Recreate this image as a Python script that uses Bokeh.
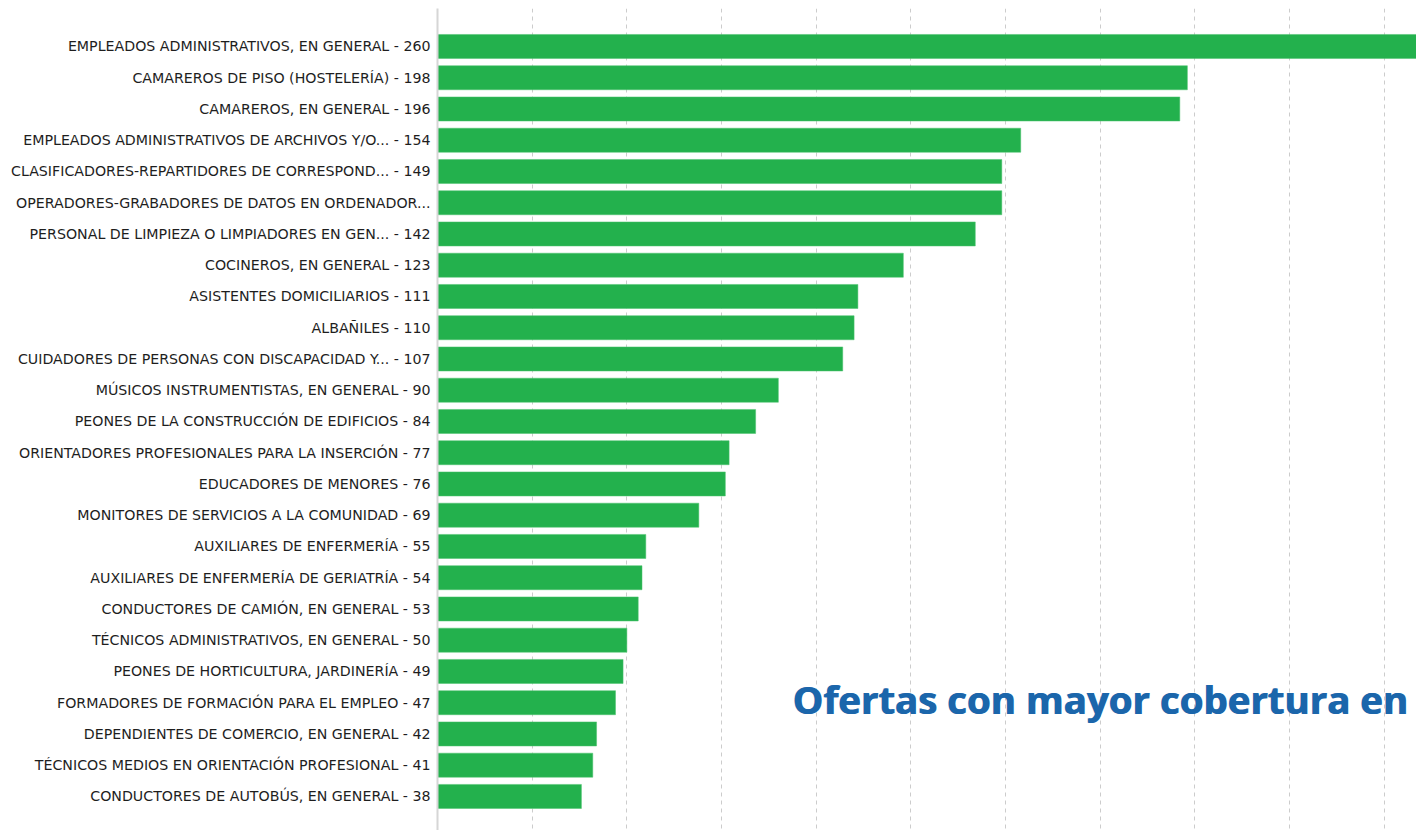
from bokeh.plotting import figure
from bokeh.models import Range1d, FixedTicker, Label
from bokeh.embed import file_html
from bokeh.resources import INLINE

labels = [
    "EMPLEADOS ADMINISTRATIVOS, EN GENERAL - 260",
    "CAMAREROS DE PISO (HOSTELERÍA) - 198",
    "CAMAREROS, EN GENERAL - 196",
    "EMPLEADOS ADMINISTRATIVOS DE ARCHIVOS Y/O... - 154",
    "CLASIFICADORES-REPARTIDORES DE CORRESPOND... - 149",
    "OPERADORES-GRABADORES DE DATOS EN ORDENADOR...",
    "PERSONAL DE LIMPIEZA O LIMPIADORES EN GEN... - 142",
    "COCINEROS, EN GENERAL - 123",
    "ASISTENTES DOMICILIARIOS - 111",
    "ALBAÑILES - 110",
    "CUIDADORES DE PERSONAS CON DISCAPACIDAD Y... - 107",
    "MÚSICOS INSTRUMENTISTAS, EN GENERAL - 90",
    "PEONES DE LA CONSTRUCCIÓN DE EDIFICIOS - 84",
    "ORIENTADORES PROFESIONALES PARA LA INSERCIÓN - 77",
    "EDUCADORES DE MENORES - 76",
    "MONITORES DE SERVICIOS A LA COMUNIDAD - 69",
    "AUXILIARES DE ENFERMERÍA - 55",
    "AUXILIARES DE ENFERMERÍA DE GERIATRÍA - 54",
    "CONDUCTORES DE CAMIÓN, EN GENERAL - 53",
    "TÉCNICOS ADMINISTRATIVOS, EN GENERAL - 50",
    "PEONES DE HORTICULTURA, JARDINERÍA - 49",
    "FORMADORES DE FORMACIÓN PARA EL EMPLEO - 47",
    "DEPENDIENTES DE COMERCIO, EN GENERAL - 42",
    "TÉCNICOS MEDIOS EN ORIENTACIÓN PROFESIONAL - 41",
    "CONDUCTORES DE AUTOBÚS, EN GENERAL - 38",
]
values = [260, 198, 196, 154, 149, 149, 142, 123, 111, 110, 107, 90, 84, 77, 76,
          69, 55, 54, 53, 50, 49, 47, 42, 41, 38]
grid_ticks = [25, 50, 75, 100, 125, 150, 175, 200, 225, 250, 275]
title_text = "Ofertas con mayor cobertura en"

idx = list(range(len(labels)))

p = figure(width=1416, height=830, output_backend="svg", toolbar_location=None,
           x_range=Range1d(0, 258.5), y_range=Range1d(25.09, -1.216),
           min_border_left=437, min_border_right=0, min_border_top=8, min_border_bottom=0)
p.outline_line_color = None
p.background_fill_color = "white"
p.border_fill_color = "white"

p.hbar(y=idx, right=values, left=0, height=0.77, fill_color="#23b14d",
       line_color="#4cc26e", line_width=0.5)

p.xaxis.visible = False
p.xgrid.ticker = FixedTicker(ticks=grid_ticks)
p.xgrid.grid_line_color = "#cccccc"
p.xgrid.grid_line_dash = "4 4"
p.xgrid.grid_line_width = 1
p.ygrid.grid_line_color = None

ya = p.yaxis[0]
ya.ticker = FixedTicker(ticks=idx)
ya.major_label_overrides = {i: l for i, l in zip(idx, labels)}
ya.major_tick_line_color = None
ya.minor_tick_line_color = None
ya.axis_line_color = "#d6d6d6"
ya.axis_line_width = 2
ya.major_label_standoff = 1
ya.major_label_text_font = "DejaVu Sans"
ya.major_label_text_font_size = "14.2px"
ya.major_label_text_color = "#1e1e1e"

for dx in (0, 1):
    p.add_layout(Label(x=93.7, y=20.88, x_offset=dx, text=title_text, text_font="Open Sans",
                       text_font_style="bold", text_font_size="38.4px",
                       text_color="#1b66ab", text_baseline="middle"))

open("out.html", "w").write(file_html(p, INLINE))
